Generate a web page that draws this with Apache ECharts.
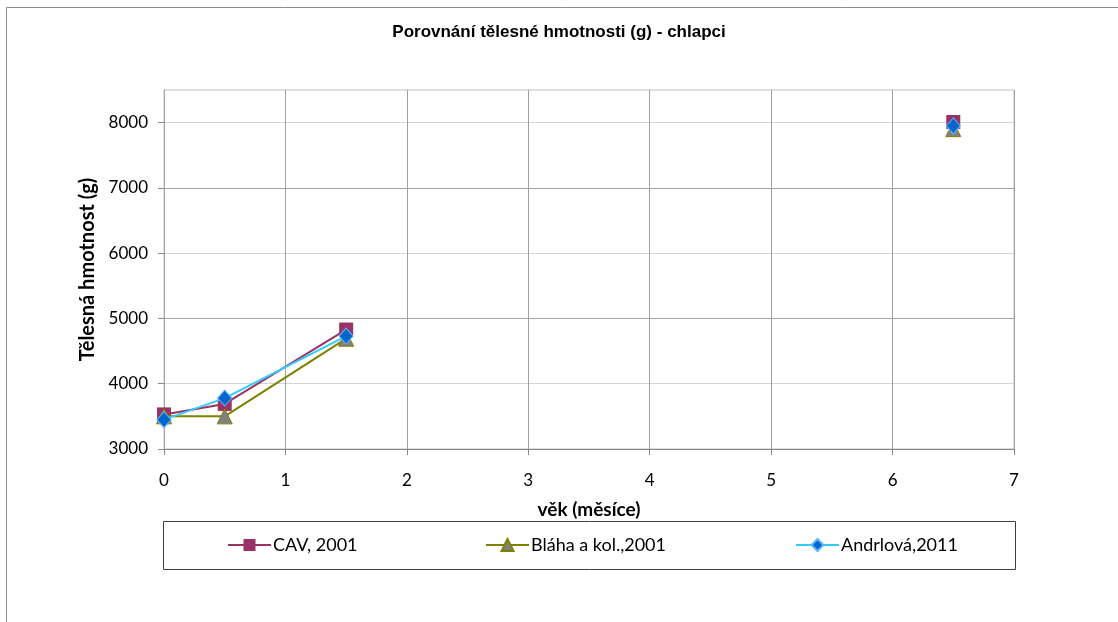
<!DOCTYPE html>
<html>
<head>
<meta charset="utf-8">
<script src="https://cdn.jsdelivr.net/npm/echarts@6/dist/echarts.min.js"></script>
<style>
html,body{margin:0;padding:0;background:#fff;}
#c{width:1118px;height:622px;}
</style>
</head>
<body>
<div id="c"></div>
<script>
// ---- data ----
var title = 'Porovnání tělesné hmotnosti (g) - chlapci';
var xTitle = 'věk (měsíce)';
var yTitle = 'Tělesná hmotnost (g)';
var months = [0, 0.5, 1.5, 4, 6.5];          // 4 = empty month (gap in lines)
var cav = [3530, 3690, 4830, null, 8010];
var blaha = [3500, 3500, 4690, null, 7900];
var andrlova = [3450, 3780, 4730, null, 7950];
var seriesNames = ['CAV, 2001', 'Bláha a kol.,2001', 'Andrlová,2011'];
var yTickValues = [3000, 4000, 5000, 6000, 7000, 8000];
var xTickValues = [0, 1, 2, 3, 4, 5, 6, 7];

function pairs(vals){
  return months.map(function(m, i){ return [m, vals[i] == null ? '-' : vals[i]]; });
}
function plain(v){ return String(v); }

var FONT = 'Lato';
var chart = echarts.init(document.getElementById('c'), null, {renderer:'canvas'});
var legendBase = {
  orient:'horizontal', top:531, itemWidth:43, itemHeight:15, itemGap:0,
  textStyle:{fontFamily:FONT, fontSize:18, color:'#000', padding:[0,0,0,-3]}
};
chart.setOption({
  animation:false,
  backgroundColor:'#fff',
  title:{
    text:title, left:'center', top:19,
    textStyle:{fontFamily:'Liberation Sans', fontWeight:'bold', fontSize:17, color:'#000'}
  },
  graphic:[
    {type:'rect', shape:{x:6.5, y:7.5, width:1200, height:700}, style:{fill:null, stroke:'#8c8c8c', lineWidth:1}, silent:true, z:-10},
    {type:'rect', shape:{x:163.5, y:521.5, width:852, height:48}, style:{fill:null, stroke:'#404040', lineWidth:1}, silent:true, z:-10}
  ],
  legend:[
    Object.assign({}, legendBase, {left:222, data:[seriesNames[0]]}),
    Object.assign({}, legendBase, {left:480, data:[seriesNames[1]]}),
    Object.assign({}, legendBase, {left:790, data:[seriesNames[2]]})
  ],
  grid:{left:164, top:90, right:104, bottom:173, show:true, borderColor:'#c0c0c0', borderWidth:1, backgroundColor:'transparent'},
  xAxis:{
    type:'value', min:0, max:7, interval:1,
    name:xTitle, nameLocation:'middle', nameGap:51,
    nameTextStyle:{fontFamily:FONT, fontWeight:'bold', fontSize:19, color:'#000'},
    axisLine:{show:true, onZero:false, lineStyle:{color:'#868686', width:1}},
    axisTick:{show:true, length:6, customValues:xTickValues, lineStyle:{color:'#868686'}},
    axisLabel:{fontFamily:FONT, fontSize:17, color:'#000', margin:23, customValues:xTickValues, formatter:plain},
    splitLine:{show:true, lineStyle:{color:'#a0a0a0', width:1}}
  },
  yAxis:{
    type:'value', min:3000, max:8500, interval:500,
    name:yTitle, nameLocation:'middle', nameGap:66,
    nameTextStyle:{fontFamily:FONT, fontWeight:'bold', fontSize:20, color:'#000'},
    axisLine:{show:true, onZero:false, lineStyle:{color:'#a6a6a6', width:1}},
    axisTick:{show:true, length:6, customValues:yTickValues, lineStyle:{color:'#868686'}},
    axisLabel:{fontFamily:FONT, fontSize:17, color:'#000', margin:16, customValues:yTickValues, formatter:plain},
    splitLine:{show:true, lineStyle:{color:['#a0a0a0','#d4d4d4'], width:1}}
  },
  series:[
    {name:seriesNames[0], type:'line', data:pairs(cav), connectNulls:false,
     symbol:'rect', symbolSize:14, lineStyle:{color:'#993366', width:2},
     itemStyle:{color:'#993366', borderColor:'#993366', borderWidth:0}, z:2},
    {name:seriesNames[1], type:'line', data:pairs(blaha), connectNulls:false,
     symbol:'triangle', symbolSize:15, lineStyle:{color:'#808000', width:2},
     itemStyle:{color:'#808080', borderColor:'#808000', borderWidth:1}, z:3},
    {name:seriesNames[2], type:'line', data:pairs(andrlova), connectNulls:false,
     symbol:'diamond', symbolSize:[14,16], lineStyle:{color:'#33ccff', width:2},
     itemStyle:{color:'#0066cc', borderColor:'#5fb6ff', borderWidth:1}, z:4}
  ]
});
</script>
</body>
</html>
